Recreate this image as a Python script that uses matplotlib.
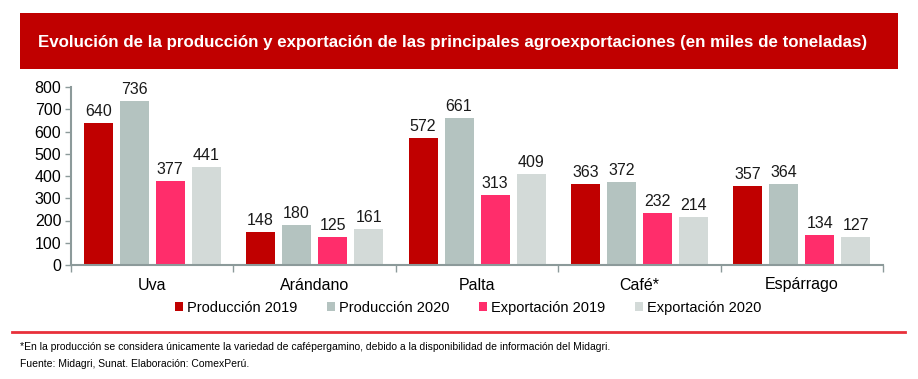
import matplotlib
matplotlib.use("Agg")
import matplotlib.pyplot as plt
import numpy as np
from matplotlib.patches import Rectangle

categories = ["Uva", "Arándano", "Palta", "Café*", "Espárrago"]
series_names = ["Producción 2019", "Producción 2020", "Exportación 2019", "Exportación 2020"]
prod_2019 = [640, 148, 572, 363, 357]
prod_2020 = [736, 180, 661, 372, 364]
exp_2019 = [377, 125, 313, 232, 134]
exp_2020 = [441, 161, 409, 214, 127]
yticks = [0, 100, 200, 300, 400, 500, 600, 700, 800]

colors = ["#C00000", "#B4C3C0", "#FF2D6B", "#D3DAD8"]

plt.rcParams['font.family'] = ['Liberation Sans', 'DejaVu Sans']

W, H = 918, 379
fig = plt.figure(figsize=(W/100, H/100), dpi=100)
renderer = fig.canvas.get_renderer()

def fit_text(t, target_px):
    bb = t.get_window_extent(renderer=renderer)
    t.set_fontsize(t.get_fontsize() * target_px / bb.width)

# banner
fig.patches.append(Rectangle((20/W, 1-69/H), 878/W, 56/H, transform=fig.transFigure,
                             facecolor="#C00000", edgecolor="none"))
title = fig.text(38/W, 1-43/H, "Evolución de la producción y exportación de las principales agroexportaciones (en miles de toneladas)",
                 color="white", fontsize=13, fontweight="bold", va="center", ha="left")
fit_text(title, 824)

x0, x1 = 71, 883
cat_px = (x1 - x0) / len(categories)
ax = fig.add_axes([x0/W, 1-265/H, (x1-x0)/W, (265-87)/H])
x = np.arange(len(categories))
step = 36/cat_px
bw = 29/cat_px
data = [prod_2019, prod_2020, exp_2019, exp_2020]
for i, (vals, c, name) in enumerate(zip(data, colors, series_names)):
    pos = x + (i - 1.5) * step
    ax.bar(pos, vals, width=bw, color=c, label=name)
    for p, v in zip(pos, vals):
        ax.text(p, v + 18, str(v), ha="center", va="bottom", fontsize=11.5, color="#1a1a1a")

ax.set_xlim(-0.5, len(categories) - 0.5)
ax.set_ylim(0, 800)
ax.set_yticks(yticks)
ax.set_yticklabels([str(t) for t in yticks], fontsize=11.5)
ax.set_xticks(x)
ax.set_xticklabels(categories, fontsize=11.5)
ax.set_xticks(np.arange(len(categories) + 1) - 0.5, minor=True)
ax.tick_params(axis="x", which="major", length=0, pad=9)
ax.tick_params(axis="x", which="minor", length=5, color="#8C9A9A", width=1)
ax.tick_params(axis="y", length=4, color="#8C9A9A", width=1, pad=3)
for s in ["top", "right"]:
    ax.spines[s].set_visible(False)
for s in ["left", "bottom"]:
    ax.spines[s].set_color("#8C9A9A")
    ax.spines[s].set_linewidth(1.5)

leg = fig.legend(loc="center", bbox_to_anchor=(468/W, 1-308/H), ncol=4, frameon=False,
                 fontsize=10.5, handlelength=0.6, handleheight=0.6, handletextpad=0.25, columnspacing=2.0)

# red line
fig.add_artist(plt.Line2D([12/W, 905/W], [1-332/H, 1-332/H], transform=fig.transFigure,
                          color="#E8303A", linewidth=2))
f1 = fig.text(20/W, 1-347/H, "*En la producción se considera únicamente la variedad de cafépergamino, debido a la disponibilidad de información del Midagri.",
              fontsize=7, va="center", ha="left")
fit_text(f1, 587)
fig.text(20/W, 1-364/H, "Fuente: Midagri, Sunat. Elaboración: ComexPerú.",
         fontsize=f1.get_fontsize(), va="center", ha="left")

fig.savefig("out.png", dpi=100)
